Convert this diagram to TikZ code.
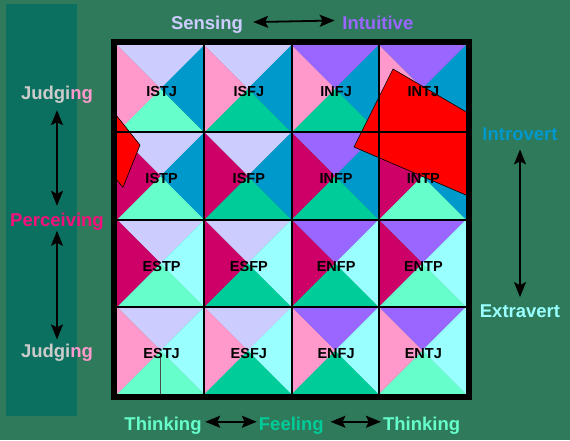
\documentclass[tikz,border=0pt]{standalone}
\usepackage{fontspec}
\setmainfont{Liberation Sans}
\usetikzlibrary{positioning,arrows.meta}

\definecolor{bgGreen}{HTML}{2F7A5B}
\definecolor{panelGreen}{HTML}{0B705F}
\definecolor{sensCol}{HTML}{CCCCFF}
\definecolor{intuCol}{HTML}{9966FF}
\definecolor{judgCol}{HTML}{FF99CC}
\definecolor{percCol}{HTML}{CC0066}
\definecolor{introCol}{HTML}{0099CC}
\definecolor{extraCol}{HTML}{99FFFF}
\definecolor{thinkCol}{HTML}{66FFCC}
\definecolor{feelCol}{HTML}{00CC99}
\definecolor{judgText}{HTML}{CCCCCC}
\definecolor{percText}{HTML}{F5107D}

\tikzset{
  axis/.style={font=\fontsize{18.5}{20}\selectfont\bfseries, inner sep=2pt},
  typ/.style={font=\fontsize{14.5}{16}\selectfont\bfseries, inner sep=1pt},
  twoway/.style={{Stealth[length=15pt,width=12pt,inset=3pt]}-{Stealth[length=15pt,width=12pt,inset=3pt]}, line width=1.8pt},
  grid line/.style={line width=2pt},
}

\begin{document}
\begin{tikzpicture}[x=1pt,y=-1pt]
  \fill[bgGreen] (0,0) rectangle (570,440);
  \fill[panelGreen] (6,4) rectangle (77,416);

  \foreach \ri/\rcol/\lcol in {0/introCol/judgCol,1/introCol/percCol,2/extraCol/percCol,3/extraCol/judgCol}
    \foreach \ci/\tcol/\bcol in {0/sensCol/thinkCol,1/sensCol/feelCol,2/intuCol/feelCol,3/intuCol/thinkCol}{
      \pgfmathsetmacro\xa{117+87.25*\ci}
      \pgfmathsetmacro\ya{45+87.25*\ri}
      \pgfmathsetmacro\xb{\xa+87.25}
      \pgfmathsetmacro\yb{\ya+87.25}
      \coordinate (m) at ({\xa+43.625},{\ya+43.625});
      \fill[\tcol] (\xa,\ya) -- (\xb,\ya) -- (m) -- cycle;
      \fill[\bcol] (\xa,\yb) -- (\xb,\yb) -- (m) -- cycle;
      \fill[\lcol] (\xa,\ya) -- (\xa,\yb) -- (m) -- cycle;
      \fill[\rcol] (\xb,\ya) -- (\xb,\yb) -- (m) -- cycle;
    }

  \begin{scope}
    \clip (117,45) rectangle (466,394);
    \filldraw[red, draw=black, line width=0.6pt] (110,107.5) -- (140,145) -- (123,187.3) -- (110,172) -- cycle;
    \filldraw[red, draw=black, line width=0.6pt] (393,69) -- (480,120) -- (480,201) -- (354,147) -- cycle;
  \end{scope}

  \foreach \k in {1,2,3}{
    \draw[grid line] ({117+87.25*\k},45) -- ({117+87.25*\k},394);
    \draw[grid line] (117,{45+87.25*\k}) -- (466,{45+87.25*\k});
  }
  \draw[line width=6pt] (114,42) rectangle (469,397);
  \draw[line width=0.7pt, black!70] (160.5,357) -- (160.5,394);

  \foreach \ri/\ei/\jp in {0/I/J,1/I/P,2/E/P,3/E/J}
    \foreach \ci/\sn/\tf in {0/S/T,1/S/F,2/N/F,3/N/T}
      \node[typ] (\ei\sn\tf\jp) at ({161.6+87.25*\ci},{91.6+87.25*\ri}) {\ei\sn\tf\jp};

  \node[axis, text=sensCol, anchor=base] (sens) at (207,29) {Sensing};
  \node[axis, text=intuCol, base right=95pt of sens] (intu) {Intuitive};
  \node[axis, anchor=base] (judgTop) at (57,99.3) {\textcolor{judgText}{Judgi}\textcolor{judgCol}{ng}};
  \node[axis, text=percText, anchor=base] (perc) at (57,226.7) {Perceiving};
  \node[axis, anchor=base] (judgBot) at (57,357) {\textcolor{judgText}{Judgi}\textcolor{judgCol}{ng}};
  \node[axis, text=introCol, anchor=base] (intro) at (520,140) {Introvert};
  \node[axis, text=extraCol, anchor=base] (extra) at (520,317) {Extravert};
  \node[axis, text=thinkCol, anchor=base] (thinkL) at (163,430) {Thinking};
  \node[axis, text=feelCol, base right=53pt of thinkL] (feel) {Feeling};
  \node[axis, text=thinkCol, base right=55pt of feel] (thinkR) {Thinking};

  \draw[twoway, shorten <=8pt, shorten >=5.5pt] ([yshift=2pt]sens.east) -- ([yshift=2pt]intu.west);
  \draw[twoway, shorten <=4.7pt, shorten >=5.3pt] (judgTop.south) -- (perc.north);
  \draw[twoway, shorten <=-2pt, shorten >=2pt] (perc.south) -- (judgBot.north);
  \draw[twoway, shorten <=7pt, shorten >=5pt] (intro.south) -- (extra.north);
  \draw[twoway, shorten <=1.5pt] ([yshift=3.5pt]thinkL.east) -- ([yshift=3.5pt]feel.west);
  \draw[twoway, shorten <=4.6pt] ([yshift=3.5pt]feel.east) -- ([yshift=3.5pt]thinkR.west);
\end{tikzpicture}
\end{document}
